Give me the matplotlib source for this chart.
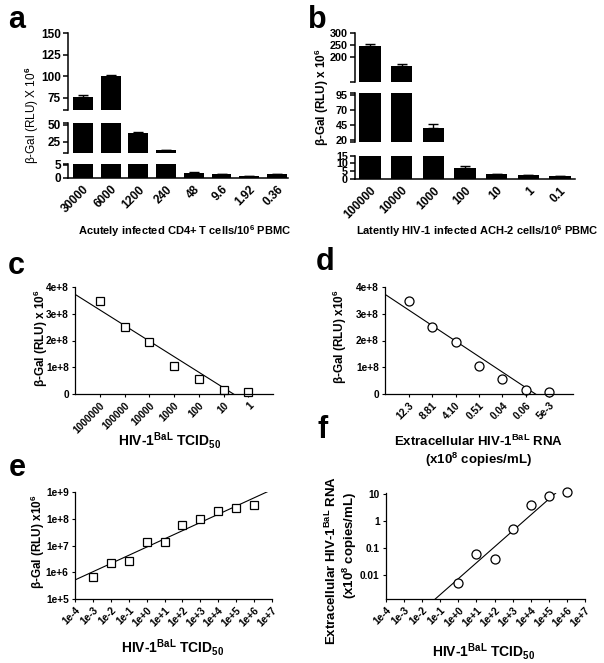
import numpy as np
import matplotlib
matplotlib.use('Agg')
import matplotlib.pyplot as plt

plt.rcParams['font.family'] = ['Liberation Sans', 'DejaVu Sans']
plt.rcParams['font.weight'] = 'bold'
plt.rcParams['mathtext.fontset'] = 'custom'
plt.rcParams['mathtext.rm'] = 'Liberation Sans:bold'
plt.rcParams['mathtext.bf'] = 'Liberation Sans:bold'
plt.rcParams['mathtext.it'] = 'Liberation Sans:bold'

## data ---------------------------------------------------------------
# a. acutely infected CD4+ T cells
a_cats = ['30000', '6000', '1200', '240', '48', '9.6', '1.92', '0.36']
a_vals = [76, 100, 38, 12.5, 2.0, 1.4, 0.8, 1.4]
a_err = [2.5, 1.0, 1.2, 1.0, 0.2, 0.2, 0.1, 0.2]

# b. latently infected ACH-2 cells
b_cats = ['100000', '10000', '1000', '100', '10', '1', '0.1']
b_vals = [247, 162, 40.5, 6.8, 3.0, 2.5, 1.9]
b_err = [7, 9, 5.5, 1.6, 0.2, 0.2, 0.2]

# c / d. beta-gal vs TCID50 and vs extracellular RNA
c_cats = ['1000000', '100000', '10000', '1000', '100', '10', '1']
d_cats = ['12.3', '8.81', '4.10', '0.51', '0.04', '0.06', '5e-3']
cd_vals = [3.46e8, 2.52e8, 1.96e8, 1.06e8, 0.57e8, 0.15e8, 0.07e8]
cd_yticks = [0, 1e8, 2e8, 3e8, 4e8]
cd_ylabels = ['0', '1e+8', '2e+8', '3e+8', '4e+8']

# e. log-log beta-gal vs TCID50
e_x = [1e-3, 1e-2, 1e-1, 1e0, 1e1, 1e2, 1e3, 1e4, 1e5, 1e6]
e_y = [6.7e5, 2.3e6, 2.6e6, 1.35e7, 1.35e7, 5.6e7, 1.0e8, 1.9e8, 2.45e8, 3.4e8]
e_fit_slope = 0.307
e_fit_icpt = 6.94
log_xticks = [10.0**k for k in range(-4, 8)]
log_xlabels = ['1e-4', '1e-3', '1e-2', '1e-1', '1e+0', '1e+1', '1e+2', '1e+3',
               '1e+4', '1e+5', '1e+6', '1e+7']
e_yticks = [1e5, 1e6, 1e7, 1e8, 1e9]
e_ylabels = ['1e+5', '1e+6', '1e+7', '1e+8', '1e+9']

# f. extracellular RNA vs TCID50
f_x = [1e0, 1e1, 1e2, 1e3, 1e4, 1e5, 1e6]
f_y = [0.005, 0.06, 0.04, 0.51, 4.10, 8.81, 12.3]
f_yticks = [0.01, 0.1, 1, 10]
f_ylabels = ['0.01', '0.1', '1', '10']

## layout helpers -----------------------------------------------------
W, H = 604, 663
fig = plt.figure(figsize=(W/100, H/100), dpi=100)

def box(l, t, r, b):
    return [l/W, 1 - b/H, (r - l)/W, (b - t)/H]

def ftext(x, y, s, **kw):
    kw.setdefault('ha', 'center')
    kw.setdefault('va', 'center')
    fig.text(x/W, 1 - y/H, s, **kw)

def broken_bars(cats, vals, err, l, r, segs, xlim, width, fs):
    pos = np.arange(len(cats))
    n = len(segs)
    for i, (t, b, lo, hi, ticks) in enumerate(segs):
        ax = fig.add_axes(box(l, t, r, b))
        ax.bar(pos, vals, width=width, color='black')
        ax.errorbar(pos, vals, yerr=[np.zeros(len(vals)), err], fmt='none',
                    ecolor='black', elinewidth=1, capsize=3.5, capthick=1)
        ax.set_xlim(*xlim)
        ax.set_ylim(lo, hi)
        ax.spines['top'].set_visible(False)
        ax.spines['right'].set_visible(False)
        ax.spines['left'].set_linewidth(1.1)
        ax.set_yticks(ticks)
        ax.set_yticks([lo, hi], minor=True)
        ax.tick_params(axis='y', which='both', length=3.5, width=1.1, pad=1.5,
                       labelsize=fs)
        ax.yaxis.set_minor_formatter(plt.NullFormatter())
        if i < n - 1:
            ax.spines['bottom'].set_visible(False)
            ax.set_xticks([])
        else:
            ax.spines['bottom'].set_linewidth(1.1)
            ax.set_xticks(pos)
            ax.set_xticklabels(cats, rotation=45, ha='right',
                               rotation_mode='anchor', fontsize=8.5)
            ax.tick_params(axis='x', length=0, pad=4)

def simple_axes(l, t, r, b):
    ax = fig.add_axes(box(l, t, r, b))
    ax.spines['top'].set_visible(False)
    ax.spines['right'].set_visible(False)
    for s in ['left', 'bottom']:
        ax.spines[s].set_linewidth(0.9)
    ax.tick_params(which='major', length=2.5, width=0.8, pad=2, labelsize=7.3)
    ax.minorticks_off()
    return ax

## a ---------------------------------------------------------------
broken_bars(a_cats, a_vals, a_err, 68, 288,
            [(33, 110, 61, 150, [75, 100, 125, 150]),
             (123, 153, 8.5, 52.5, [25, 50]),
             (164, 178, 0, 5.3, [0, 5])],
            (-0.54, 7.4), 0.72, 8.5)
ftext(17, 20, 'a', fontsize=22)
ftext(32, 115, r'β-Gal (RLU) X 10$^{6}$', rotation=90, fontsize=8.5, fontweight='normal')
ftext(185, 231, r'Acutely infected CD4+ T cells/10$^{6}$ PBMC', fontsize=8)

## b ---------------------------------------------------------------
broken_bars(b_cats, b_vals, b_err, 355, 575,
            [(33, 81.7, 94.5, 300, [200, 250, 300]),
             (93.3, 142.3, 16, 98, [20, 45, 70, 95]),
             (155.7, 179, 0, 15, [0, 5, 10, 15])],
            (-0.47, 6.47), 0.68, 7.8)
ftext(317, 20, 'b', fontsize=22)
ftext(322, 97, r'β-Gal (RLU) x 10$^{6}$', rotation=90, fontsize=8.5)
ftext(477, 231, r'Latently HIV-1 infected ACH-2 cells/10$^{6}$ PBMC', fontsize=8)

tcid = r'HIV-1$^{\mathbf{BaL}}$ TCID$_{\mathbf{50}}$'

## c ---------------------------------------------------------------
pos = np.arange(len(c_cats))
k = np.polyfit(pos, cd_vals, 1)
xl = np.array([-1, 7])
ax = simple_axes(75, 287, 273, 394)
ax.plot(xl, np.polyval(k, xl), color='black', lw=0.8)
ax.plot(pos, cd_vals, 's', ms=5.3, mfc='white', mec='black', mew=0.9, clip_on=False)
ax.set_xlim(-1, 7)
ax.set_ylim(0, 4e8)
ax.set_yticks(cd_yticks)
ax.set_yticklabels(cd_ylabels)
ax.set_xticks(pos)
ax.set_xticklabels(c_cats, rotation=45, ha='right', rotation_mode='anchor')
ftext(16, 266, 'c', fontsize=22)
ftext(41, 338, r'β-Gal (RLU) x 10$^{6}$', rotation=90, fontsize=8.5)
ftext(170, 441, tcid, fontsize=10)

## d ---------------------------------------------------------------
ax = simple_axes(385, 287, 573, 394)
ax.plot(xl, np.polyval(k, xl), color='black', lw=0.8)
ax.plot(pos, cd_vals, 'o', ms=6.5, mfc='white', mec='black', mew=0.9, clip_on=False)
ax.set_xlim(-1, 7)
ax.set_ylim(0, 4e8)
ax.set_yticks(cd_yticks)
ax.set_yticklabels(cd_ylabels)
ax.set_xticks(pos)
ax.set_xticklabels(d_cats, rotation=45, ha='right', rotation_mode='anchor')
ftext(325, 262, 'd', fontsize=22)
ftext(340, 337, r'β-Gal (RLU) x10$^{6}$', rotation=90, fontsize=8.5)
ftext(479, 441, r'Extracellular HIV-1$^{\mathbf{BaL}}$ RNA', fontsize=9.5)
ftext(479, 460, r'(x10$^{\mathbf{8}}$ copies/mL)', fontsize=9.5)

## e ---------------------------------------------------------------
lx = np.array([-4, 7])
ax = simple_axes(75, 492, 272, 599)
ax.plot(10.0**lx, 10.0**(e_fit_icpt + e_fit_slope*lx), color='black', lw=0.8)
ax.plot(e_x, e_y, 's', ms=5.5, mfc='white', mec='black', mew=0.9)
ax.set_xscale('log')
ax.set_yscale('log')
ax.set_xlim(1e-4, 1e7)
ax.set_ylim(1e5, 1e9)
ax.minorticks_off()
ax.set_xticks(log_xticks)
ax.set_xticklabels(log_xlabels, rotation=45, ha='right', rotation_mode='anchor')
ax.set_yticks(e_yticks)
ax.set_yticklabels(e_ylabels)
ftext(17, 468, 'e', fontsize=22)
ftext(38, 542, r'β-Gal (RLU) x10$^{6}$', rotation=90, fontsize=8.5)
ftext(173, 648, tcid, fontsize=10)

## f ---------------------------------------------------------------
kf = np.polyfit(np.log10(f_x), np.log10(f_y), 1)
ax = simple_axes(386, 493, 585, 599)
ax.plot(10.0**lx, 10.0**np.polyval(kf, lx), color='black', lw=0.8)
ax.plot(f_x, f_y, 'o', ms=6.5, mfc='white', mec='black', mew=0.9, clip_on=False)
ax.set_xscale('log')
ax.set_yscale('log')
ax.set_xlim(1e-4, 1e7)
ax.set_ylim(10**-2.89, 10**1.04)
ax.minorticks_off()
ax.set_xticks(log_xticks)
ax.set_xticklabels(log_xlabels, rotation=45, ha='right', rotation_mode='anchor')
ax.set_yticks(f_yticks)
ax.set_yticklabels(f_ylabels)
ftext(323, 430, 'f', fontsize=22)
ftext(331, 560, r'Extracellular HIV-1$^{\mathbf{BaL}}$ RNA', rotation=90, fontsize=9.5)
ftext(350, 545, r'(x10$^{\mathbf{8}}$ copies/mL)', rotation=90, fontsize=9.5)
ftext(484, 651, tcid, fontsize=10)

fig.savefig('out.png', dpi=100)
